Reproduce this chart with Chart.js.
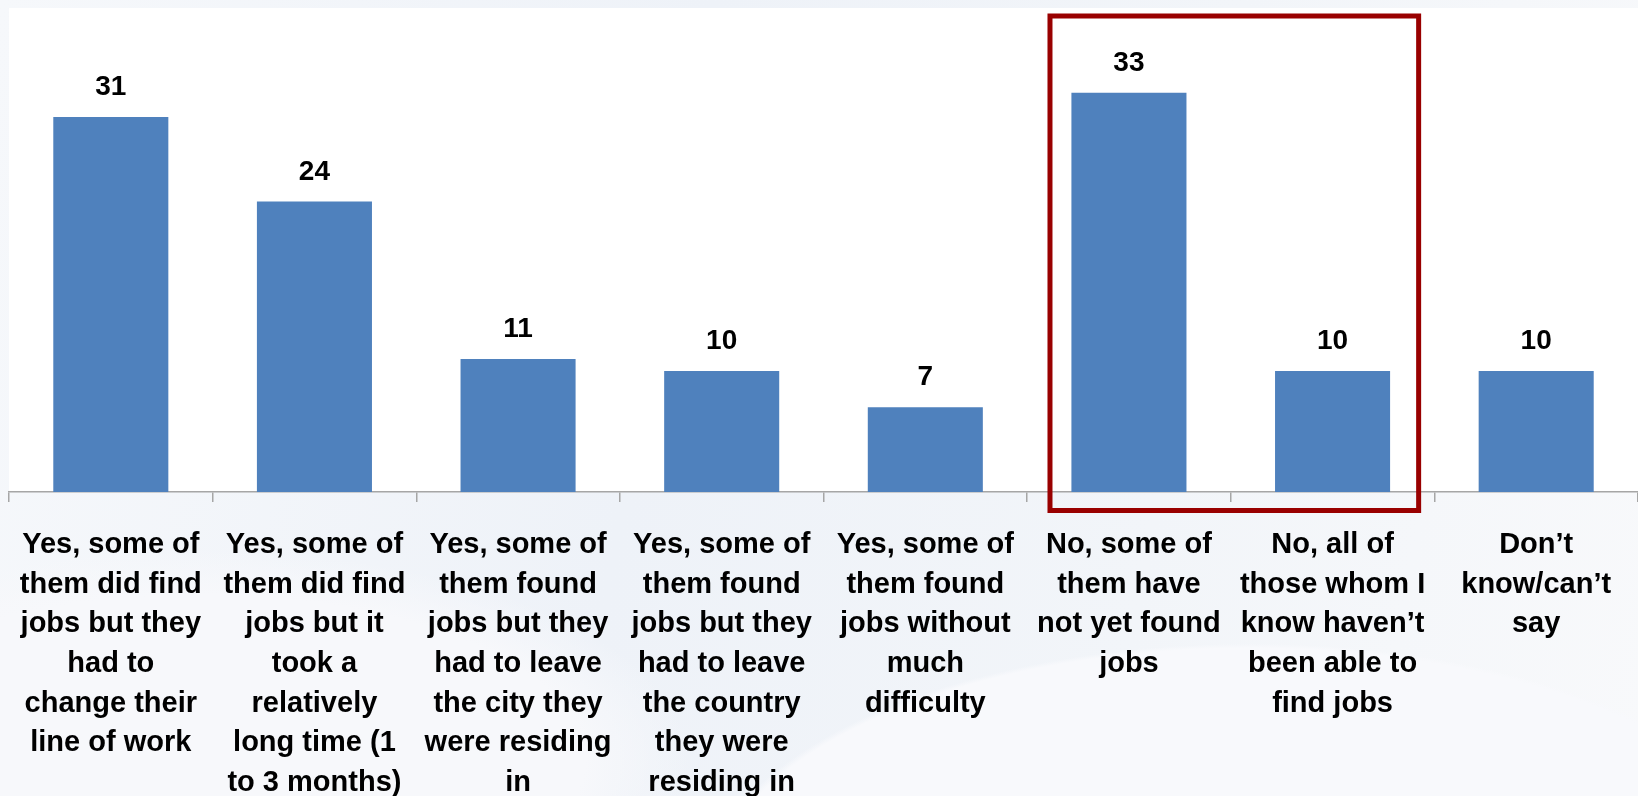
<!DOCTYPE html>
<html lang="en">
  <head>
    <meta charset="UTF-8" />
    <title>Found jobs</title>
    <script src="https://cdn.jsdelivr.net/npm/chart.js"></script>
    <style>
      html, body {
        margin: 0;
        padding: 0;
      }
      body {
        width: 1638px;
        height: 796px;
        overflow: hidden;
        background:
          radial-gradient(ellipse 900px 420px at 1250px 900px, #f8f9fc 60%, rgba(248,249,252,0) 61%),
          radial-gradient(ellipse 700px 300px at 200px 760px, #f7f8fb 55%, rgba(247,248,251,0) 70%),
          linear-gradient(100deg, #f6f8fb 0%, #eef2f8 40%, #f2f5f9 70%, #f8f9fb 100%);
      }
      #wrap {
        position: relative;
        width: 1638px;
        height: 796px;
      }
    </style>
  </head>
  <body>
    <div id="wrap"><canvas id="jobsChart"></canvas></div>

    <script>
      const categories = [
        ["Yes, some of", "them did find", "jobs but they", "had to", "change their", "line of work"],
        ["Yes, some of", "them did find", "jobs but it", "took a", "relatively", "long time (1", "to 3 months)"],
        ["Yes, some of", "them found", "jobs but they", "had to leave", "the city they", "were residing", "in"],
        ["Yes, some of", "them found", "jobs but they", "had to leave", "the country", "they were", "residing in"],
        ["Yes, some of", "them found", "jobs without", "much", "difficulty"],
        ["No, some of", "them have", "not yet found", "jobs"],
        ["No, all of", "those whom I", "know haven\u2019t", "been able to", "find jobs"],
        ["Don\u2019t", "know/can\u2019t", "say"],
      ];

      const values = [31, 24, 11, 10, 7, 33, 10, 10];

      // categories inside the red box
      const highlighted = [5, 6];

      const fontFamily = "'Liberation Sans', Arial, Helvetica, sans-serif";

      // white plot background
      const plotBackground = {
        id: "plotBackground",
        beforeDraw(chart) {
          const { ctx, chartArea } = chart;
          ctx.save();
          ctx.fillStyle = "#ffffff";
          ctx.fillRect(
            chartArea.left,
            chartArea.top,
            chartArea.right - chartArea.left,
            chartArea.bottom - chartArea.top
          );
          ctx.restore();
        },
      };

      // numbers above the bars
      const valueLabels = {
        id: "valueLabels",
        afterDatasetsDraw(chart) {
          const { ctx } = chart;
          const meta = chart.getDatasetMeta(0);
          ctx.save();
          ctx.font = "bold 28px " + fontFamily;
          ctx.fillStyle = "#000000";
          ctx.textAlign = "center";
          ctx.textBaseline = "alphabetic";
          meta.data.forEach((bar, i) => {
            ctx.fillText(String(values[i]), bar.x, bar.y - 22);
          });
          ctx.restore();
        },
      };

      // red frame round the "No" answers
      const highlightBox = {
        id: "highlightBox",
        afterDraw(chart) {
          const { ctx, chartArea } = chart;
          const x = chart.scales.x;
          const w = x.getPixelForValue(1) - x.getPixelForValue(0);
          const left = x.getPixelForValue(highlighted[0]) - 0.4 * w;
          const right = x.getPixelForValue(highlighted[highlighted.length - 1]) + 0.435 * w;
          const top = chartArea.top + 5.5;
          const bottom = chartArea.bottom + 21;
          ctx.save();
          ctx.strokeStyle = "#990000";
          ctx.lineWidth = 5;
          ctx.strokeRect(left + 2.5, top + 2.5, right - left - 5, bottom - top - 5);
          ctx.restore();
        },
      };

      const ctx = document.getElementById("jobsChart").getContext("2d");
      const jobsChart = new Chart(ctx, {
        type: "bar",
        data: {
          labels: categories,
          datasets: [
            {
              data: values,
              backgroundColor: "#4f81bd",
              borderWidth: 0,
              categoryPercentage: 1,
              barPercentage: 0.565,
            },
          ],
        },
        options: {
          responsive: true,
          maintainAspectRatio: false,
          animation: false,
          layout: {
            padding: { left: 9, top: 8, right: 0, bottom: 0 },
          },
          plugins: {
            legend: { display: false },
            tooltip: { enabled: false },
          },
          scales: {
            y: {
              display: false,
              min: 0,
              max: 40,
            },
            x: {
              afterFit(scale) {
                scale.height = 304;
                // labels may run a little past the edge categories
                scale.paddingLeft = 0;
                scale.paddingRight = 0;
              },
              grid: {
                offset: true,
                drawOnChartArea: false,
                drawTicks: true,
                tickLength: 10,
                color: "#a6a6a6",
                lineWidth: 1.5,
              },
              border: {
                display: true,
                color: "#a6a6a6",
                width: 1.5,
              },
              ticks: {
                autoSkip: false,
                maxRotation: 0,
                minRotation: 0,
                padding: 23,
                color: "#000000",
                font: {
                  family: fontFamily,
                  size: 29,
                  weight: "bold",
                  lineHeight: "39.7px",
                },
              },
            },
          },
        },
        plugins: [plotBackground, valueLabels, highlightBox],
      });
    </script>
  </body>
</html>
